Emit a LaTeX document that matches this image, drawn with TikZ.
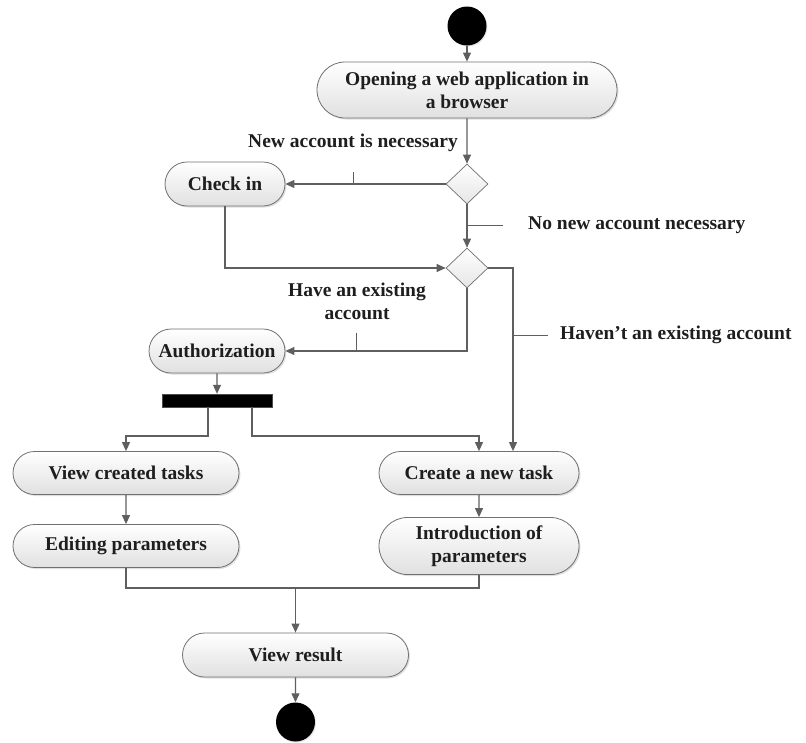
\documentclass[tikz,border=0pt]{standalone}
\usepackage{fontspec}
\setmainfont{Liberation Serif}
\usetikzlibrary{shapes.misc,shapes.geometric,arrows.meta,shadows}
\definecolor{linec}{HTML}{5F5F5F}
\definecolor{boxline}{HTML}{707070}
\definecolor{txt}{HTML}{1E1E1E}
\begin{document}
\begin{tikzpicture}[x=1pt,y=-1pt,
  font=\fontsize{19.5}{23}\selectfont\bfseries, text=txt,
  act/.style={rounded rectangle, draw=boxline, line width=0.8pt,
    top color=white, bottom color=black!12,
    drop shadow={shadow xshift=1.5pt,shadow yshift=-1.5pt,fill=black!25},
    align=center, inner sep=0pt, minimum height=44pt},
  dec/.style={diamond, draw=boxline, line width=0.7pt, top color=white, bottom color=black!10,
    inner sep=0pt, minimum width=42pt, minimum height=40pt},
  flow/.style={draw=linec, line width=1.1pt, -{Triangle[length=9pt,width=8pt]}},
  conn/.style={draw=linec, line width=1.1pt},
  tick/.style={draw=linec, line width=0.6pt},
  dot/.style={circle, fill=black, minimum size=39pt, inner sep=0pt,
    drop shadow={shadow xshift=1pt,shadow yshift=-1pt,fill=black!20}},
  lab/.style={align=center, inner sep=0pt}
]
\useasboundingbox (0,0) rectangle (806,742);

% nodes
\node[dot] (start) at (467,26) {};
\node[act, minimum width=300pt, minimum height=56pt] (open) at (467,90) {Opening a web application in\\a browser};
\node[dec] (d1) at (467,184) {};
\node[act, minimum width=120pt] (checkin) at (225,184) {Check in};
\node[dec] (d2) at (467,268) {};
\node[act, minimum width=136pt] (auth) at (217,351) {Authorization};
\node[rectangle, fill=black, draw=black!70, minimum width=110pt, minimum height=13pt, inner sep=0pt,
  drop shadow={shadow xshift=1pt,shadow yshift=-1pt,fill=black!20}] (bar) at (217,400.5) {};
\node[act, minimum width=226pt, minimum height=43pt] (view) at (126,473) {View created tasks};
\node[act, minimum width=200pt, minimum height=43pt] (create) at (479,473) {Create a new task};
\node[act, minimum width=226pt, minimum height=43pt] (edit) at (126,546) {Editing parameters};
\node[act, minimum width=200pt, minimum height=57pt] (intro) at (479,546) {Introduction of\\parameters};
\node[act, minimum width=226pt] (result) at (295.5,655) {View result};
\node[dot] (end) at (295.5,722) {};

% labels
\node[lab, anchor=east] (l1) at (458,143) {New account is necessary};
\node[lab, anchor=west] (l2) at (528,225) {No new account necessary};
\node[lab] (l3) at (357,301) {Have an existing\\account};
\node[lab, anchor=west] (l4) at (560,335) {Haven’t an existing account};

% connectors
\draw[flow] (start) -- (open);
\draw[flow] (open) -- (d1);
\draw[flow] (d1.west) -- (checkin.east);
\draw[flow] (d1.south) -- (d2.north);
\draw[flow] (checkin.south) |- (d2.west);
\coordinate (r1) at (513,268);
\draw[flow] (d2.east) -- (r1) -- (r1 |- create.north);
\draw[flow] (d2.south) |- (auth.east);
\draw[flow] (auth) -- (bar);
\coordinate (fl) at (208,436);
\coordinate (fr) at (252,436);
\draw[flow] (fl |- bar.south) -- (fl) -| (view.north);
\draw[flow] (fr |- bar.south) -- (fr) -| (create.north);
\draw[flow] (view) -- (edit);
\draw[flow] (create) -- (intro);
\coordinate (m) at (295.5,588);
\draw[conn] (edit.south) |- (m) -| (intro.south);
\draw[flow] (m) -- (result.north);
\draw[flow] (result) -- (end);

% ticks
\coordinate (t1) at (353,172);
\draw[tick] (t1) -- (t1 |- d1.west);
\coordinate (t2) at (503,225);
\draw[tick] (t2) -- (t2 -| d1.south);
\coordinate (t3) at (356,333);
\draw[tick] (t3) -- (t3 |- auth.east);
\coordinate (t4) at (548,335);
\draw[tick] (t4) -- (t4 -| r1);
\end{tikzpicture}
\end{document}
